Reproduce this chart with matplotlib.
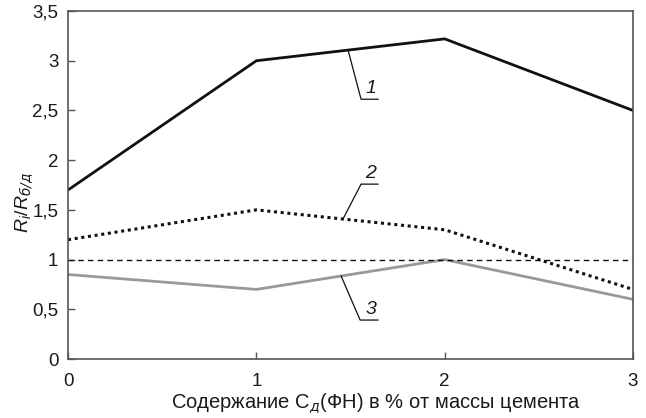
import matplotlib
matplotlib.use("Agg")
import matplotlib.pyplot as plt

plt.rcParams['font.family'] = ['Liberation Sans', 'DejaVu Sans']
plt.rcParams['mathtext.fontset'] = 'custom'
plt.rcParams['mathtext.rm'] = 'Liberation Sans'
plt.rcParams['mathtext.it'] = 'Liberation Sans:italic'
plt.rcParams['mathtext.sf'] = 'DejaVu Sans:oblique'

x = [0, 1, 2, 3]
series1 = [1.7, 3.0, 3.22, 2.5]
series2 = [1.2, 1.5, 1.3, 0.7]
series3 = [0.85, 0.7, 1.0, 0.6]
ref_level = 1.0
yticks = [0, 0.5, 1, 1.5, 2, 2.5, 3, 3.5]
ytick_labels = ['0', '0,5', '1', '1,5', '2', '2,5', '3', '3,5']
xticks = [0, 1, 2, 3]

fig = plt.figure(figsize=(6.46, 4.18), dpi=100)
ax = fig.add_axes([0.1053, 0.1411, 0.8746, 0.8325])

ax.plot(x, series1, color='#111111', lw=2.0, solid_joinstyle='miter')
ax.plot(x, series2, color='#111111', lw=2.2, linestyle=(0, (1, 1.2)))
ax.plot(x, series3, color='#999999', lw=2.0)
ax.axhline(ref_level, color='#111111', lw=1.0, linestyle=(0, (4, 3)))

ax.set_xlim(0, 3)
ax.set_ylim(0, 3.5)
ax.set_xticks(xticks)
ax.set_xticklabels([str(v) for v in xticks])
ax.set_yticks(yticks)
ax.set_yticklabels(ytick_labels)
ax.tick_params(direction='in', length=5, width=1, labelsize=13.5,
               colors='#555555', labelcolor='#1a1a1a')
ax.tick_params(axis='y', pad=7)
ax.tick_params(axis='x', pad=10)
for s in ax.spines.values():
    s.set_linewidth(1.2)
    s.set_color('#555555')

ax.set_xlabel('Содержание С$_{\\mathsf{д}}$(ФН) в % от массы цемента',
              fontsize=14.5, color='#1a1a1a')
ax.set_ylabel('$\\mathit{R}_{\\mathit{i}}/\\mathit{R}_{\\mathsf{б/д}}$',
              fontsize=14, color='#1a1a1a')
ax.xaxis.set_label_coords(0.545, -0.129)
ax.xaxis.label.set_va('center')
ax.yaxis.set_label_coords(-0.078, 0.45)
ax.yaxis.label.set_va('center')

# leaders
leaders = [
    ('1', (1.487, 3.107), (1.556, 2.613), 1.646, (1.609, 2.72)),
    ('2', (1.460, 1.408), (1.556, 1.759), 1.646, (1.604, 1.87)),
    ('3', (1.450, 0.835), (1.551, 0.392), 1.646, (1.609, 0.50)),
]
for lab, p0, p1, xe, tp in leaders:
    ax.plot([p0[0], p1[0], xe], [p0[1], p1[1], p1[1]], color='#111111', lw=0.9, clip_on=False)
    ax.text(tp[0], tp[1], lab, fontsize=14, style='italic', ha='center', va='center',
            color='#1a1a1a')

fig.savefig('out.png', dpi=100)
